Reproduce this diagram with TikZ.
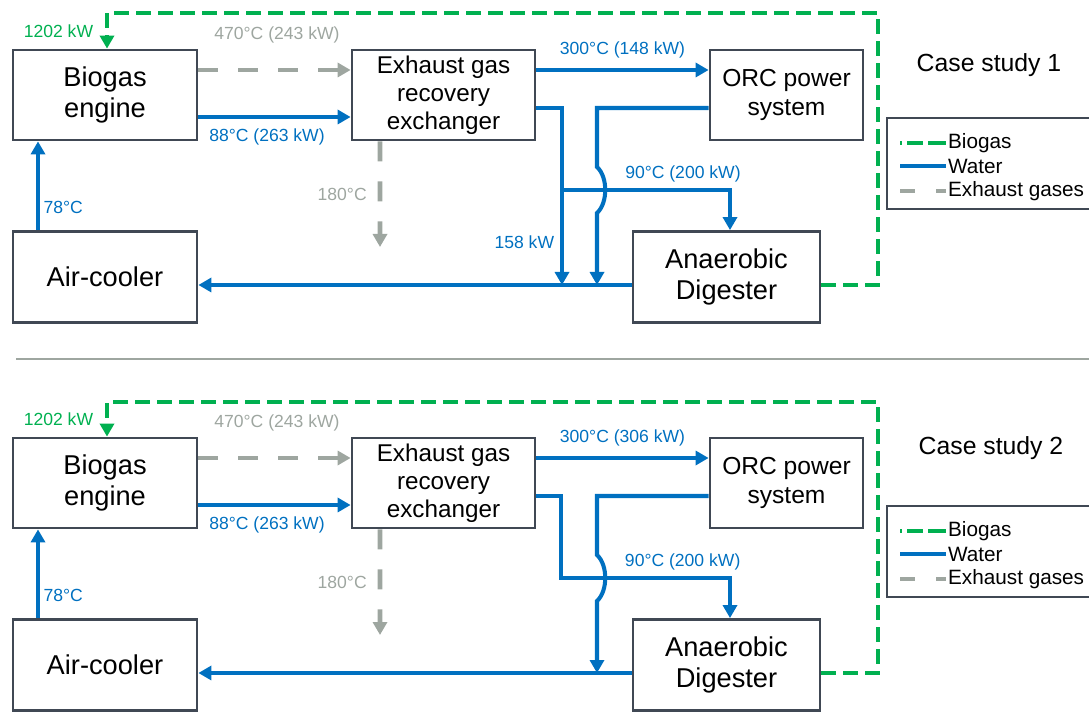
\documentclass[tikz,border=0pt]{standalone}
\usepackage{fontspec}
\setmainfont{Liberation Sans}
\usetikzlibrary{arrows.meta,positioning}

\definecolor{waterblue}{RGB}{0,112,192}
\definecolor{biogasgreen}{RGB}{0,176,80}
\definecolor{exhaustgray}{RGB}{158,166,160}
\definecolor{boxedge}{RGB}{64,72,84}

\begin{document}
\begin{tikzpicture}[
    x=0.02cm, y=-0.02cm,
    unit/.style={rectangle, draw=boxedge, line width=1.6pt, align=center, inner sep=0pt, font=\fontsize{15.5}{18}\selectfont},
    water/.style={draw=waterblue, line width=2.3pt},
    biogas/.style={draw=biogasgreen, line width=2.3pt, dash pattern=on 0.3cm off 0.14cm},
    exhaust/.style={draw=exhaustgray, line width=2.8pt, dash pattern=on 0.4cm off 0.4cm},
    arr/.style={-{Triangle[length=0.26cm,width=0.28cm]}},
    wlabel/.style={text=waterblue, font=\fontsize{10}{12}\selectfont},
    elabel/.style={text=exhaustgray, font=\fontsize{10}{12}\selectfont},
    glabel/.style={text=biogasgreen, font=\fontsize{10}{12}\selectfont},
    legtext/.style={anchor=west, inner sep=1pt, font=\fontsize{11.8}{14}\selectfont},
    case/.style={font=\fontsize{14.1}{16}\selectfont}
]
    \useasboundingbox (0,0) rectangle (1089,712);

    % case study 1
    \node[unit, minimum width=3.68cm, minimum height=1.8cm] (ENG1) at (105,95) {Biogas\\engine};
    \node[unit, minimum width=3.66cm, minimum height=1.8cm, font=\fontsize{13.8}{16}\selectfont] (EGR1) at (443.5,95) {Exhaust gas\\recovery\\exchanger};
    \node[unit, minimum width=3.06cm, minimum height=1.8cm, font=\fontsize{14}{16.5}\selectfont] (ORC1) at (786.5,95) {ORC power\\system};
    \node[unit, minimum width=3.68cm, minimum height=1.82cm] (AC1) at (105,277) {Air-cooler};
    \node[unit, minimum width=3.74cm, minimum height=1.82cm] (AD1) at (726.5,277) {Anaerobic\\Digester};
    \node[case] (CS1) at (989,65) {Case study 1};

    \coordinate (RET1) at ([yshift=-0.16cm]AD1.west);
    \coordinate (STK1) at (380,247);
    \coordinate (J1) at (562,190);
    \coordinate (H1a) at (597,167);
    \coordinate (H1b) at (597,213);
    \coordinate (G1) at (878,13);

    \draw[exhaust, arr] ([yshift=0.5cm]ENG1.east) -- node[elabel, midway, yshift=0.7cm, xshift=0.05cm] {470°C (243 kW)} ([yshift=0.5cm]EGR1.west);
    \draw[water, arr] ([yshift=-0.44cm]ENG1.east) -- node[wlabel, midway, yshift=-0.4cm, xshift=-0.15cm] {88°C (263 kW)} ([yshift=-0.44cm]EGR1.west);
    \draw[water, arr] ([xshift=-1.34cm]AC1.north) -- node[wlabel, pos=0.26, right, inner sep=2pt] {78°C} ([xshift=-1.34cm]ENG1.south);
    \draw[exhaust, arr] ([xshift=-1.27cm]EGR1.south) -- node[elabel, midway, left=0.1cm] {180°C} (STK1);
    \draw[water, arr] ([yshift=0.5cm]EGR1.east) -- node[wlabel, midway, yshift=0.4cm] {300°C (148 kW)} ([yshift=0.5cm]ORC1.west);
    \draw[water, arr] ([yshift=-0.26cm]EGR1.east) -| (J1) -- node[wlabel, pos=0.55, left] {158 kW} (J1 |- RET1);
    \draw[water, arr] (J1) -| node[wlabel, pos=0.36, above] {90°C (200 kW)} ([xshift=0.07cm]AD1.north);
    \draw[water, arr] ([yshift=-0.26cm]ORC1.west) -| (H1a) .. controls +(0.22cm,-0.2cm) and +(0.22cm,0.2cm) .. (H1b) -- (H1b |- RET1);
    \draw[water, arr] (RET1) -- ([yshift=-0.16cm]AC1.east);
    \draw[biogas, arr] ([yshift=-0.16cm]AD1.east) -| (G1) -| node[glabel, pos=0.75, left=0.12cm] {1202 kW} ([xshift=0.04cm]ENG1.north);

    \node[unit, minimum width=4.16cm, minimum height=1.82cm] (LEG1) at (991,163.5) {};
    \node[legtext] (LB1) at (946,143) {Biogas};
    \node[legtext] (LW1) at (946,166) {Water};
    \node[legtext] (LE1) at (946,191) {Exhaust gases};
    \draw[biogas, dash pattern=on 0.04cm off 0.1cm on 0.32cm off 0.1cm on 0.4cm] ([xshift=-0.92cm]LB1.west) -- (LB1.west);
    \draw[water] ([xshift=-0.92cm]LW1.west) -- (LW1.west);
    \draw[exhaust, dash pattern=on 0.3cm off 0.42cm on 0.3cm] ([xshift=-0.92cm]LE1.west) -- (LE1.west);

    \draw[exhaustgray, line width=1.3pt] (16,359) -- (1089,359);

    % case study 2
    \node[unit, minimum width=3.68cm, minimum height=1.8cm] (ENG2) at (105,483) {Biogas\\engine};
    \node[unit, minimum width=3.66cm, minimum height=1.8cm, font=\fontsize{13.8}{16}\selectfont] (EGR2) at (443.5,483) {Exhaust gas\\recovery\\exchanger};
    \node[unit, minimum width=3.06cm, minimum height=1.8cm, font=\fontsize{14}{16.5}\selectfont] (ORC2) at (786.5,483) {ORC power\\system};
    \node[unit, minimum width=3.68cm, minimum height=1.82cm] (AC2) at (105,665) {Air-cooler};
    \node[unit, minimum width=3.74cm, minimum height=1.82cm] (AD2) at (726.5,665) {Anaerobic\\Digester};
    \node[case] (CS2) at (991,448) {Case study 2};

    \coordinate (RET2) at ([yshift=-0.16cm]AD2.west);
    \coordinate (STK2) at (380,635);
    \coordinate (J2) at (561,578);
    \coordinate (H2a) at (597,555);
    \coordinate (H2b) at (597,601);
    \coordinate (G2) at (878,402);

    \draw[exhaust, arr] ([yshift=0.5cm]ENG2.east) -- node[elabel, midway, yshift=0.7cm, xshift=0.05cm] {470°C (243 kW)} ([yshift=0.5cm]EGR2.west);
    \draw[water, arr] ([yshift=-0.44cm]ENG2.east) -- node[wlabel, midway, yshift=-0.4cm, xshift=-0.15cm] {88°C (263 kW)} ([yshift=-0.44cm]EGR2.west);
    \draw[water, arr] ([xshift=-1.34cm]AC2.north) -- node[wlabel, pos=0.26, right, inner sep=2pt] {78°C} ([xshift=-1.34cm]ENG2.south);
    \draw[exhaust, arr] ([xshift=-1.27cm]EGR2.south) -- node[elabel, midway, left=0.1cm] {180°C} (STK2);
    \draw[water, arr] ([yshift=0.5cm]EGR2.east) -- node[wlabel, midway, yshift=0.4cm] {300°C (306 kW)} ([yshift=0.5cm]ORC2.west);
    \draw[water, arr] ([yshift=-0.26cm]EGR2.east) -| (J2) -| node[wlabel, pos=0.36, above] {90°C (200 kW)} ([xshift=0.07cm]AD2.north);
    \draw[water, arr] ([yshift=-0.26cm]ORC2.west) -| (H2a) .. controls +(0.22cm,-0.2cm) and +(0.22cm,0.2cm) .. (H2b) -- (H2b |- RET2);
    \draw[water, arr] (RET2) -- ([yshift=-0.16cm]AC2.east);
    \draw[biogas, arr] ([yshift=-0.16cm]AD2.east) -| (G2) -| node[glabel, pos=0.75, left=0.12cm] {1202 kW} ([xshift=0.04cm]ENG2.north);

    \node[unit, minimum width=4.16cm, minimum height=1.82cm] (LEG2) at (991,551.5) {};
    \node[legtext] (LB2) at (946,531) {Biogas};
    \node[legtext] (LW2) at (946,554) {Water};
    \node[legtext] (LE2) at (946,579) {Exhaust gases};
    \draw[biogas, dash pattern=on 0.04cm off 0.1cm on 0.32cm off 0.1cm on 0.4cm] ([xshift=-0.92cm]LB2.west) -- (LB2.west);
    \draw[water] ([xshift=-0.92cm]LW2.west) -- (LW2.west);
    \draw[exhaust, dash pattern=on 0.3cm off 0.42cm on 0.3cm] ([xshift=-0.92cm]LE2.west) -- (LE2.west);
\end{tikzpicture}
\end{document}
